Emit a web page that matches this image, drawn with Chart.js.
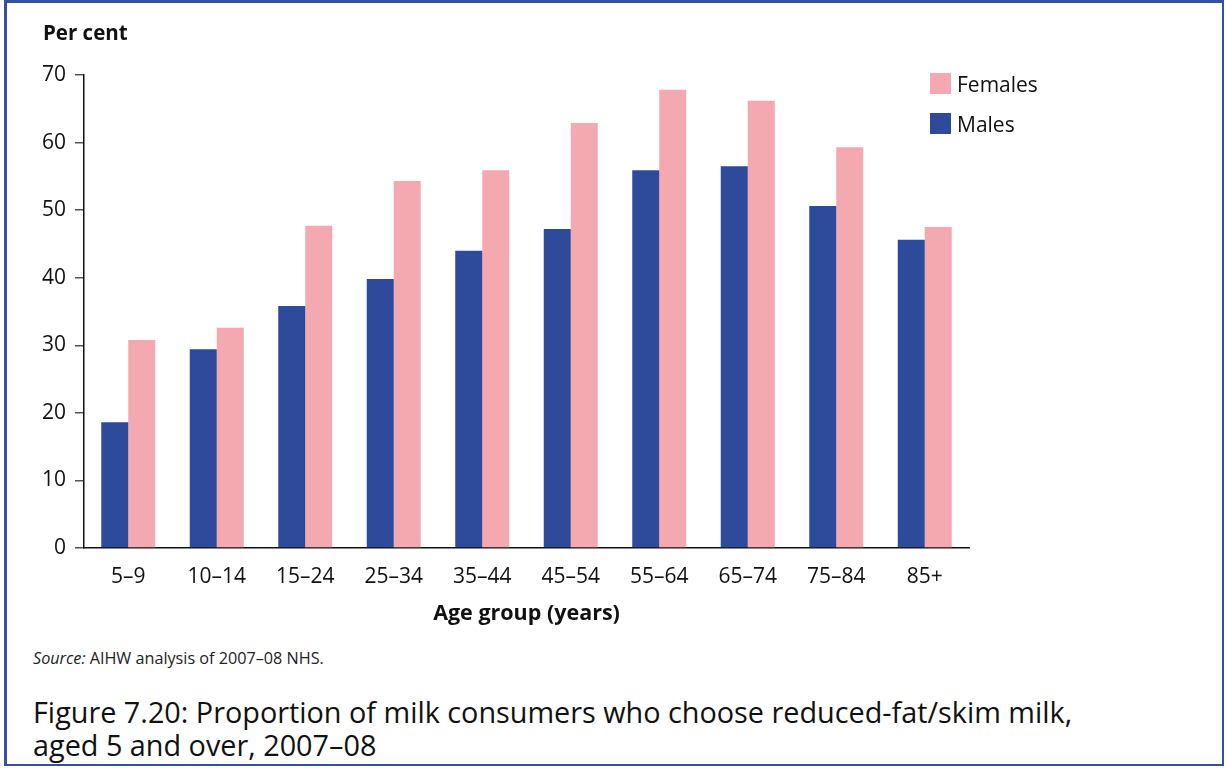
<!DOCTYPE html>
<html>
<head>
    <title>Figure 7.20</title>
    <script src="https://cdn.jsdelivr.net/npm/chart.js"></script>
    <style>
        body { margin: 0; background: #fff; font-family: "Open Sans", sans-serif; color: #111; }
        #frame { position: absolute; left: 4px; top: 0; width: 1220px; height: 766px; border: 2px solid #3350a3; border-left-width: 3px; border-top-width: 3px; box-sizing: border-box; }
        #wrap { position: absolute; left: 0; top: 0; width: 1227px; height: 640px; }
        .abs { position: absolute; white-space: nowrap; }
        #ytitle { left: 43px; top: 18px; font-weight: bold; font-size: 20.5px; }
        #legend { left: 930px; top: 73px; }
        .item { display: flex; align-items: center; height: 21px; margin-bottom: 19px; font-size: 21px; }
        .sw { width: 21px; height: 21px; margin-right: 6px; }
        #source { left: 33px; top: 647px; font-size: 16.2px; color: #222; }
        #caption { left: 33px; top: 695px; font-size: 28.8px; line-height: 33px; color: #111; }
    </style>
</head>
<body>
    <div id="frame"></div>
    <div id="wrap"><canvas id="grafico"></canvas></div>
    <div class="abs" id="ytitle">Per cent</div>
    <div class="abs" id="legend"></div>
    <div class="abs" id="source"><i>Source:</i> AIHW analysis of 2007–08 NHS.</div>
    <div class="abs" id="caption">Figure 7.20: Proportion of milk consumers who choose reduced-fat/skim milk,<br>aged 5 and over, 2007–08</div>

    <script>
        // dados
        const faixas = ['5–9', '10–14', '15–24', '25–34', '35–44', '45–54', '55–64', '65–74', '75–84', '85+'];
        const homens = [18.6, 29.4, 35.8, 39.8, 44.0, 47.2, 55.9, 56.5, 50.6, 45.6];
        const mulheres = [30.8, 32.6, 47.7, 54.3, 55.9, 62.9, 67.8, 66.2, 59.3, 47.5];
        const yTicks = [0, 10, 20, 30, 40, 50, 60, 70];

        const corHomens = '#2e4a9a';
        const corMulheres = '#f4a9b1';

        const fonte = { family: '"Open Sans", sans-serif', size: 21 };

        const ctx = document.getElementById('grafico').getContext('2d');
        const myChart = new Chart(ctx, {
            type: 'bar',
            data: {
                labels: faixas,
                datasets: [
                    { label: 'Males', data: homens, backgroundColor: corHomens },
                    { label: 'Females', data: mulheres, backgroundColor: corMulheres }
                ]
            },
            options: {
                responsive: true,
                maintainAspectRatio: false,
                animation: false,
                layout: { padding: { left: 0, right: 258, top: 75, bottom: 0 } },
                datasets: { bar: { categoryPercentage: 0.61, barPercentage: 1.0 } },
                plugins: { legend: { display: false }, tooltip: { enabled: false } },
                scales: {
                    x: {
                        grid: { display: false },
                        border: { display: true, color: '#111', width: 1.5 },
                        ticks: { color: '#111', font: fonte, padding: 8, maxRotation: 0 },
                        title: { display: true, text: 'Age group (years)', color: '#111',
                                 font: { family: '"Open Sans", sans-serif', size: 21.5, weight: 'bold' }, padding: { top: 0, bottom: 13 } },
                        afterFit: (scale) => { scale.height = 92; }
                    },
                    y: {
                        min: 0, max: 70,
                        afterBuildTicks: (scale) => { scale.ticks = yTicks.map(v => ({ value: v })); },
                        grid: { drawOnChartArea: false, tickLength: 9, color: '#555', lineWidth: 1.5 },
                        border: { display: true, color: '#111', width: 1.5 },
                        ticks: { color: '#111', font: fonte, padding: 9 },
                        afterFit: (scale) => { scale.width = 84; }
                    }
                }
            }
        });

        // legenda em HTML (Females em cima)
        const leg = document.getElementById('legend');
        myChart.data.datasets.slice().reverse().forEach(ds => {
            const d = document.createElement('div');
            d.className = 'item';
            d.innerHTML = '<span class="sw" style="background:' + ds.backgroundColor + '"></span>' + ds.label;
            leg.appendChild(d);
        });
    </script>
</body>
</html>
